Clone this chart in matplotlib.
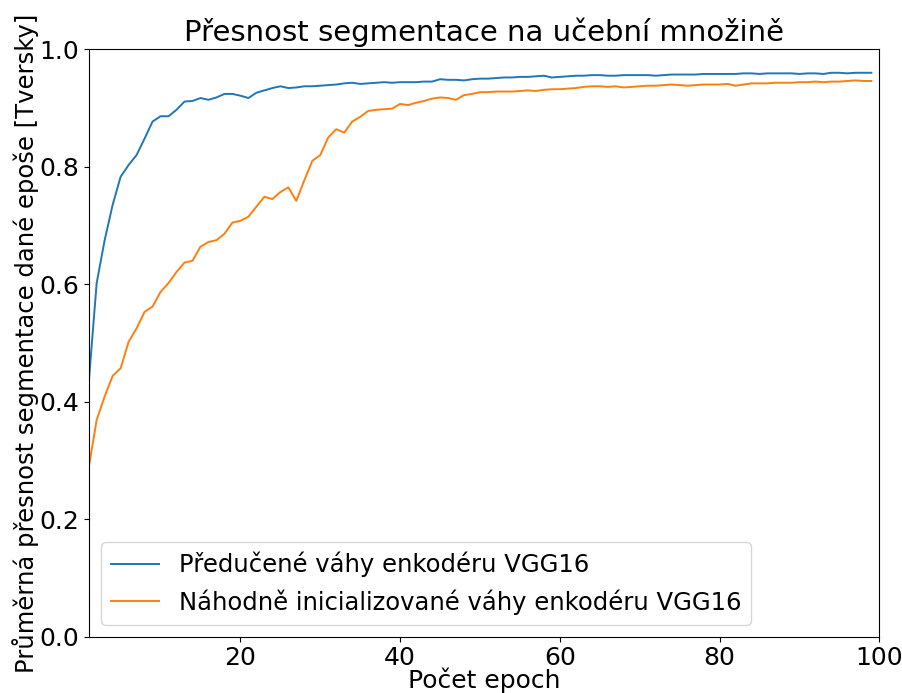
import matplotlib
matplotlib.use("Agg")
import matplotlib.pyplot as plt
import numpy as np

epochs = list(range(1, 100))

pretrained = [0.431, 0.602, 0.675, 0.735, 0.783, 0.803, 0.820, 0.848, 0.877, 0.886,
              0.886, 0.897, 0.911, 0.912, 0.917, 0.914, 0.918, 0.924, 0.924, 0.921,
              0.917, 0.926, 0.930, 0.934, 0.937, 0.934, 0.935, 0.937, 0.937, 0.938,
              0.939, 0.940, 0.942, 0.943, 0.941, 0.942, 0.943, 0.944, 0.943, 0.944,
              0.944, 0.944, 0.945, 0.945, 0.949, 0.948, 0.948, 0.947, 0.949, 0.950,
              0.950, 0.951, 0.952, 0.952, 0.953, 0.953, 0.954, 0.955, 0.952, 0.953,
              0.954, 0.955, 0.955, 0.956, 0.956, 0.955, 0.955, 0.956, 0.956, 0.956,
              0.956, 0.955, 0.956, 0.957, 0.957, 0.957, 0.957, 0.958, 0.958, 0.958,
              0.958, 0.958, 0.959, 0.959, 0.958, 0.959, 0.959, 0.959, 0.959, 0.958,
              0.959, 0.959, 0.958, 0.960, 0.960, 0.959, 0.960, 0.960, 0.960]

random_init = [0.287, 0.369, 0.409, 0.444, 0.457, 0.502, 0.525, 0.553, 0.562, 0.587,
               0.602, 0.621, 0.637, 0.640, 0.664, 0.672, 0.675, 0.686, 0.705, 0.708,
               0.715, 0.732, 0.749, 0.745, 0.757, 0.765, 0.742, 0.777, 0.810, 0.820,
               0.850, 0.864, 0.858, 0.877, 0.885, 0.895, 0.897, 0.898, 0.899, 0.907,
               0.905, 0.909, 0.912, 0.916, 0.918, 0.917, 0.914, 0.922, 0.924, 0.927,
               0.927, 0.928, 0.928, 0.928, 0.929, 0.930, 0.929, 0.931, 0.932, 0.932,
               0.933, 0.934, 0.936, 0.937, 0.937, 0.936, 0.937, 0.935, 0.936, 0.937,
               0.938, 0.938, 0.939, 0.940, 0.939, 0.938, 0.939, 0.940, 0.940, 0.940,
               0.941, 0.938, 0.940, 0.942, 0.942, 0.942, 0.943, 0.943, 0.943, 0.944,
               0.944, 0.945, 0.944, 0.945, 0.945, 0.946, 0.947, 0.946, 0.946]

labels = ["Předučené váhy enkodéru VGG16", "Náhodně inicializované váhy enkodéru VGG16"]

plt.rcParams['font.family'] = ['DejaVu Sans']
fig = plt.figure(figsize=(9.03, 6.93), dpi=100)
ax = fig.add_axes([0.0982, 0.0812, 0.8756, 0.8477])
ax.plot(epochs, pretrained, color='tab:blue', lw=1.4, label=labels[0])
ax.plot(epochs, random_init, color='tab:orange', lw=1.4, label=labels[1])
ax.set_xlim(1, 100)
ax.set_ylim(0.0, 1.0)
ax.set_xticks([20, 40, 60, 80, 100])
ax.set_yticks([0.0, 0.2, 0.4, 0.6, 0.8, 1.0])
ax.tick_params(labelsize=18)
ax.set_title("Přesnost segmentace na učební množině", fontsize=21)
ax.set_xlabel("Počet epoch", fontsize=18, labelpad=-2)
ax.set_ylabel("Průměrná přesnost segmentace dané epoše [Tversky]", fontsize=17.5, labelpad=0)
ax.legend(loc='lower left', fontsize=17.5)
fig.savefig("out.png", dpi=100)
